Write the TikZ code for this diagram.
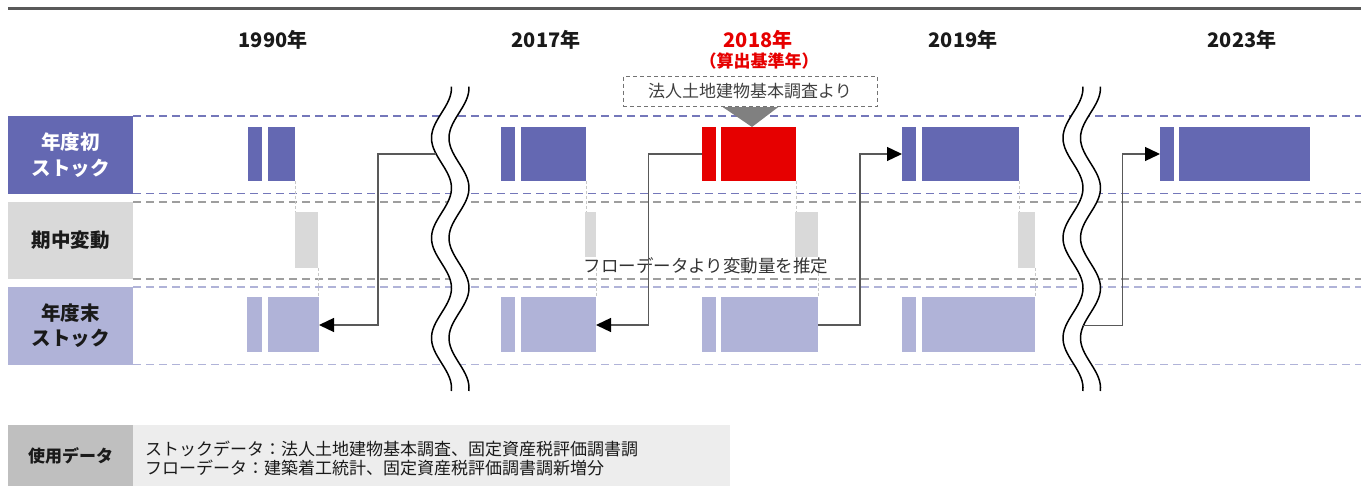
\documentclass[tikz,border=0pt]{standalone}
\usepackage{fontspec}
\setmainfont{Noto Sans CJK JP}
\usetikzlibrary{arrows.meta}
\definecolor{dblue}{HTML}{6468B2}
\definecolor{lblue}{HTML}{B0B3D8}
\definecolor{lgray}{HTML}{D9D9D9}
\definecolor{myred}{HTML}{E60000}
\definecolor{linegray}{HTML}{595959}
\definecolor{txt}{HTML}{1A1A1A}
\definecolor{guidegray}{HTML}{C8C8C8}
\newcommand\barnode[6]{\node[bar,fill=#2,minimum width={(#5-#3)*1pt},minimum height={(#6-#4)*1pt}] (#1) at (#3,#4) {};}
\begin{document}
\begin{tikzpicture}[x=1pt,y=-1pt,
  bar/.style={draw=none,inner sep=0pt,outer sep=0pt,anchor=north west},
  labbox/.style={inner sep=0pt,outer sep=0pt,anchor=north west,minimum width=125pt,align=center,font=\fontsize{19.5}{25.5}\selectfont\bfseries},
  yearlab/.style={font=\fontsize{20}{24}\selectfont\bfseries,text=txt,inner sep=0pt},
  dashB/.style={dblue!90,line width=1.2pt,dash pattern=on 8pt off 5pt},
  dashG/.style={black!38,line width=1.2pt,dash pattern=on 8pt off 5pt},
  dashL/.style={lblue,line width=1.2pt,dash pattern=on 8pt off 5pt},
  guide/.style={guidegray,line width=0.7pt,dash pattern=on 3pt off 2pt},
  arr/.style={linegray,line width=1.3pt,-{Triangle[length=15pt,width=14pt,color=black]}},
  wave/.style={black,line width=1.5pt}
]
\useasboundingbox (0,0) rectangle (1361,486);
% top rule
\draw[linegray,line width=3pt] (8,8.2) -- (1361,8.2);
% headers
\node[yearlab] (y1990) at (273,40) {1990年};
\node[yearlab] (y2017) at (546,40) {2017年};
\node[yearlab,text=myred] (y2018) at (758,40) {2018年};
\node[font=\fontsize{17}{20}\selectfont\bfseries,text=myred,inner sep=0pt] (y2018b) at (759,61) {（算出基準年）};
\node[yearlab] (y2019) at (963,40) {2019年};
\node[yearlab] (y2023) at (1242,40) {2023年};
% row labels
\node[labbox,fill=dblue,text=white,minimum height=78pt] (lab1) at (8,116) {年度初\\ストック};
\node[labbox,fill=lgray,text=txt,minimum height=77.5pt] (lab2) at (8,201.7) {期中変動};
\node[labbox,fill=lblue,text=txt,minimum height=78.3pt] (lab3) at (8,286.7) {年度末\\ストック};
% dashed row lines
\draw[dashB] (133,116) -- (1361,116);
\draw[dashB] (133,193.3) -- (1361,193.3);
\draw[dashG] (133,202) -- (1361,202);
\draw[dashG] (133,279) -- (1361,279);
\draw[dashL] (133,287) -- (1361,287);
\draw[dashL] (133,364.5) -- (1361,364.5);
% bars 1990
\barnode{s90a}{dblue}{248}{127}{262}{181}
\barnode{s90b}{dblue}{268}{127}{295}{181}
\barnode{c90}{lgray}{295}{212}{318}{268}
\barnode{e90a}{lblue}{247}{297.5}{262}{352.5}
\barnode{e90b}{lblue}{268}{297.5}{319}{352.5}
% bars 2017
\barnode{s17a}{dblue}{501}{127}{515}{181}
\barnode{s17b}{dblue}{521}{127}{586}{181}
\barnode{c17}{lgray}{585}{212}{596}{268}
\barnode{e17a}{lblue}{501}{297.5}{515}{352.5}
\barnode{e17b}{lblue}{521}{297.5}{596}{352.5}
% bars 2018
\barnode{s18a}{myred}{702}{127}{716}{181}
\barnode{s18b}{myred}{721}{127}{796}{181}
\barnode{c18}{lgray}{795}{212}{818}{268}
\barnode{e18a}{lblue}{701.5}{297.5}{716}{352.5}
\barnode{e18b}{lblue}{721}{297.5}{818}{352.5}
% bars 2019
\barnode{s19a}{dblue}{902}{127}{916}{181}
\barnode{s19b}{dblue}{922}{127}{1019}{181}
\barnode{c19}{lgray}{1018}{212}{1035}{268}
\barnode{e19a}{lblue}{902}{297.5}{916}{352.5}
\barnode{e19b}{lblue}{922}{297.5}{1034.5}{352.5}
% bars 2023
\barnode{s23a}{dblue}{1160}{127}{1174}{181}
\barnode{s23b}{dblue}{1179}{127}{1310}{181}
% flow text
\node[fill=white,inner sep=0.6pt,font=\fontsize{17.5}{20}\selectfont,text=black!80] (flow) at (706,265.5) {フローデータより変動量を推定};
% guides
\draw[guide] (s90b.south east) -- (s90b.south east |- c90.north);
\draw[guide] (c90.south east) -- (c90.south east |- e90b.north);
\draw[guide] (s17b.south east) -- (s17b.south east |- c17.north);
\draw[guide] (c17.south east) -- (c17.south east |- e17b.north);
\draw[guide] (s18b.south east) -- (s18b.south east |- c18.north);
\draw[guide] (c18.south east) -- (c18.south east |- e18b.north);
\draw[guide] (s19b.south east) -- (s19b.south east |- c19.north);
\draw[guide] (c19.south east) -- (c19.south east |- e19b.north);
% callout
\node[draw=black!55,dashed,line width=1pt,dash pattern=on 4pt off 3pt,minimum width=254pt,minimum height=30.5pt,inner sep=0pt,font=\fontsize{17}{20}\selectfont,text=black!75] (call) at (750,91.5) {法人土地建物基本調査より};
\fill[black!50] ([xshift=-27pt]call.south) -- ([xshift=28pt]call.south) -- ([xshift=2pt]call.south |- s18b.north) -- cycle;
% wavy breaks
\fill[white] plot[domain=86.7:391,samples=90,smooth,variable=\t] ({441.5+10*cos(3.6*(\t-88))},{\t}) -- plot[domain=391:86.7,samples=90,smooth,variable=\t] ({459+10*cos(3.6*(\t-88))},{\t}) -- cycle;
\draw[wave] plot[domain=86.7:391,samples=90,smooth,variable=\t] ({441.5+10*cos(3.6*(\t-88))},{\t});
\draw[wave] plot[domain=86.7:391,samples=90,smooth,variable=\t] ({459+10*cos(3.6*(\t-88))},{\t});
\fill[white] plot[domain=86.7:391,samples=90,smooth,variable=\t] ({1073+10*cos(3.6*(\t-88))},{\t}) -- plot[domain=391:86.7,samples=90,smooth,variable=\t] ({1090.5+10*cos(3.6*(\t-88))},{\t}) -- cycle;
\draw[wave] plot[domain=86.7:391,samples=90,smooth,variable=\t] ({1073+10*cos(3.6*(\t-88))},{\t});
\draw[wave] plot[domain=86.7:391,samples=90,smooth,variable=\t] ({1090.5+10*cos(3.6*(\t-88))},{\t});
\coordinate (brkL) at (436.2,154);
\coordinate (brkR) at (1083.2,325.5);
% arrows
\draw[arr] (brkL) -- (378,154) |- (e90b.east);
\draw[arr] (s18a.west) -- ++(-53.7,0) |- (e17b.east);
\draw[arr] (e18b.east) -- ++(42,0) |- (s19a.west);
\draw[arr] (brkR) -- ++(39.5,0) |- (s23a.west);
% legend
\node[fill=black!25,minimum width=125pt,minimum height=61pt,inner sep=0pt,anchor=north west,font=\fontsize{17}{20}\selectfont\bfseries,text=txt] (leg1) at (8,425) {使用データ};
\node[fill=black!7,minimum width=597pt,minimum height=61pt,inner sep=0pt,anchor=north west] (leg2) at (133,425) {};
\node[anchor=west,align=left,inner sep=0pt,font=\fontsize{17}{19.5}\selectfont,text=txt] (legtxt) at (145,458.5) {ストックデータ：法人土地建物基本調査、固定資産税評価調書調\\フローデータ：建築着工統計、固定資産税評価調書調新増分};
\end{tikzpicture}
\end{document}
